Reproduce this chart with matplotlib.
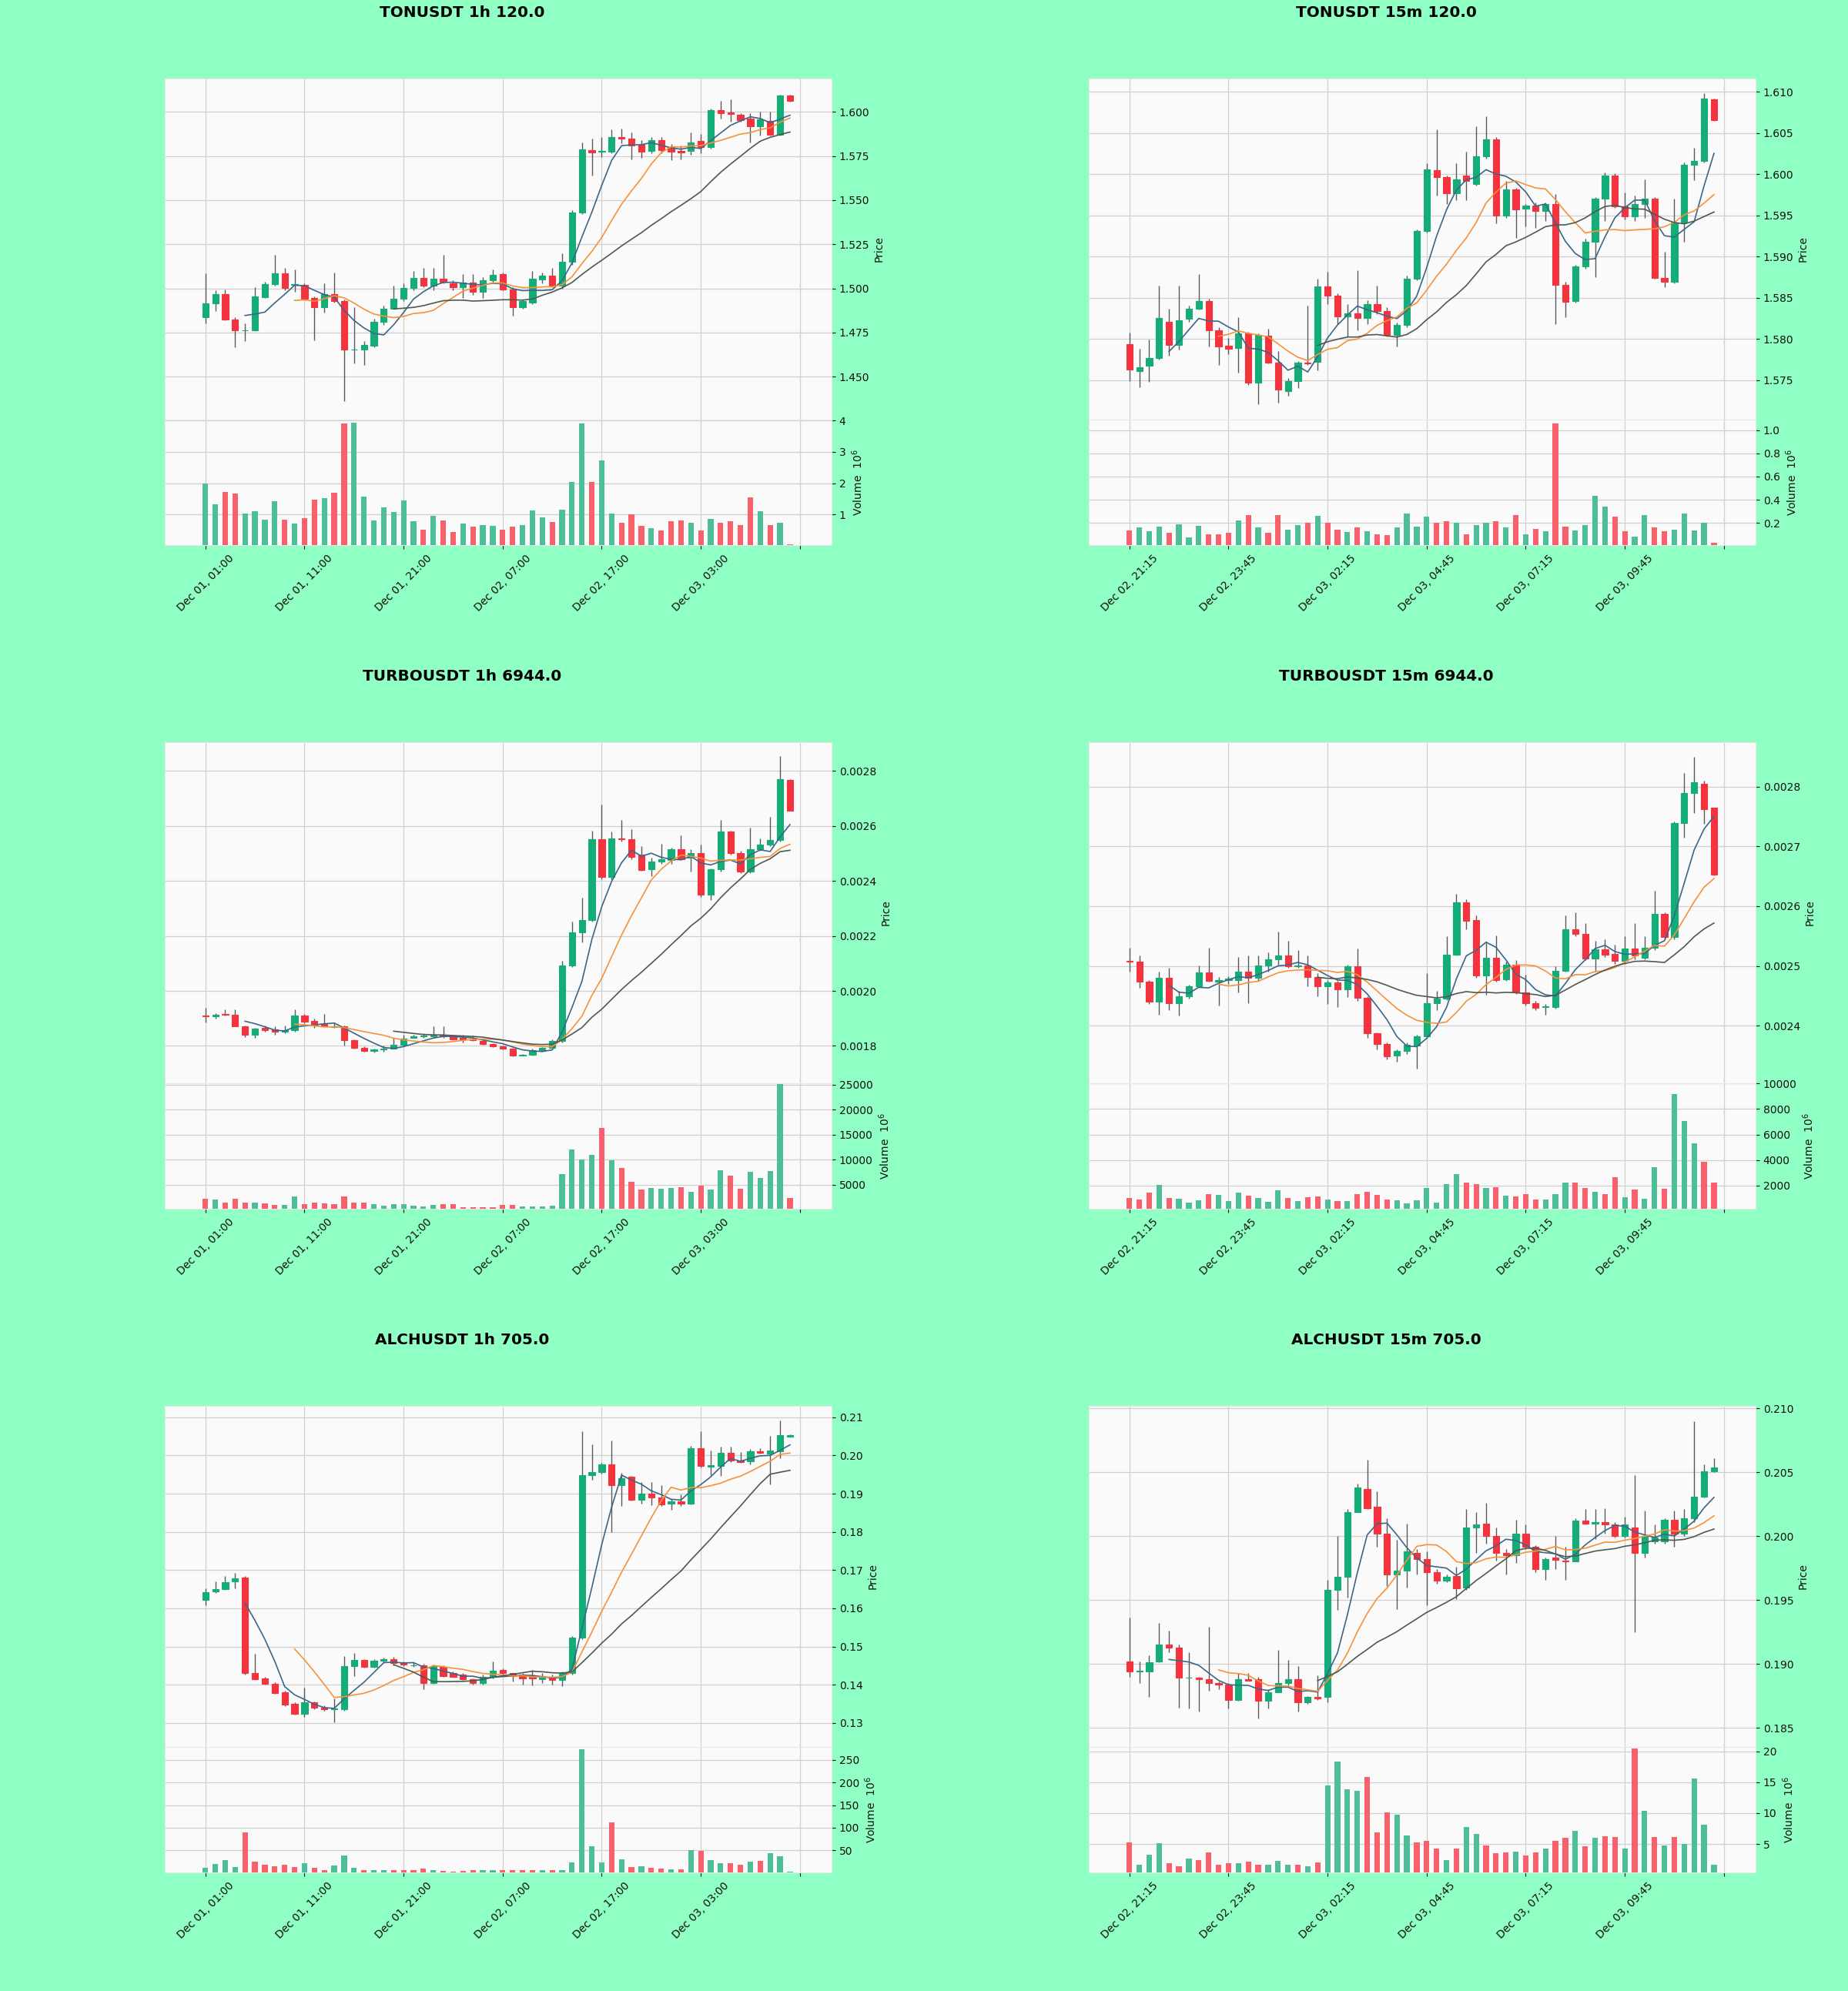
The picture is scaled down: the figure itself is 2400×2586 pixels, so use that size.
import numpy as np
import pandas as pd
import matplotlib
matplotlib.use("Agg")
import matplotlib.pyplot as plt
from matplotlib.ticker import MultipleLocator

# ---------------------------------------------------------------- data
LABELS_1H = ["Dec 01, 01:00", "Dec 01, 11:00", "Dec 01, 21:00",
             "Dec 02, 07:00", "Dec 02, 17:00", "Dec 03, 03:00"]
LABELS_15M = ["Dec 02, 21:15", "Dec 02, 23:45", "Dec 03, 02:15",
              "Dec 03, 04:45", "Dec 03, 07:15", "Dec 03, 09:45"]
MAV_WINDOWS = [5, 10, 20]

# TONUSDT 1h
TON_1H_OPEN = [1.4838,1.4915,1.4967,1.4825,1.4762,1.4765,1.4951,1.5023,1.5086,1.5020,
               1.5022,1.4946,1.4892,1.4967,1.4928,1.4652,1.4652,1.4676,1.4811,1.4886,
               1.4940,1.5002,1.5059,1.5018,1.5054,1.5027,1.5005,1.5032,1.4982,1.5045,
               1.5081,1.4995,1.4892,1.4919,1.5050,1.5072,1.5018,1.5149,1.5432,1.5784,
               1.5775,1.5775,1.5859,1.5847,1.5816,1.5778,1.5841,1.5802,1.5778,1.5777,
               1.5834,1.5802,1.6009,1.5995,1.5982,1.5964,1.5919,1.5950,1.5870,1.6094]
TON_1H_HIGH = [1.5085,1.4990,1.4994,1.4838,1.4800,1.5009,1.5036,1.5189,1.5117,1.5108,
               1.5027,1.4955,1.5027,1.5090,1.4937,1.4892,1.4703,1.4829,1.4901,1.5018,
               1.5027,1.5099,1.5117,1.5117,1.5189,1.5045,1.5080,1.5080,1.5063,1.5108,
               1.5090,1.5009,1.4937,1.5099,1.5090,1.5117,1.5198,1.5445,1.5829,1.5847,
               1.5856,1.5901,1.5906,1.5883,1.5838,1.5856,1.5856,1.5820,1.5811,1.5883,
               1.5874,1.6018,1.6063,1.6072,1.5991,1.5991,1.6000,1.6000,1.6099,1.6099]
TON_1H_LOW = [1.4802,1.4874,1.4820,1.4667,1.4700,1.4757,1.4946,1.5018,1.4991,1.4980,
              1.4937,1.4706,1.4865,1.4919,1.4360,1.4576,1.4567,1.4667,1.4793,1.4883,
              1.4928,1.4991,1.5009,1.4991,1.5027,1.4991,1.4946,1.4964,1.4946,1.5027,
              1.4991,1.4847,1.4883,1.4910,1.5027,1.5009,1.5000,1.5135,1.5423,1.5640,
              1.5745,1.5766,1.5823,1.5730,1.5739,1.5766,1.5766,1.5726,1.5730,1.5757,
              1.5766,1.5793,1.5964,1.5946,1.5946,1.5829,1.5865,1.5865,1.5865,1.6058]
TON_1H_CLOSE = [1.4915,1.4967,1.4825,1.4762,1.4765,1.4955,1.5023,1.5086,1.5003,1.5023,
                1.4941,1.4892,1.4967,1.4928,1.4652,1.4655,1.4679,1.4811,1.4886,1.4940,
                1.5002,1.5059,1.5018,1.5054,1.5036,1.5009,1.5032,1.4982,1.5045,1.5077,
                1.4995,1.4892,1.4928,1.5054,1.5072,1.5018,1.5149,1.5432,1.5787,1.5771,
                1.5779,1.5859,1.5847,1.5811,1.5775,1.5838,1.5784,1.5775,1.5772,1.5829,
                1.5802,1.6009,1.5991,1.5988,1.5955,1.5919,1.5960,1.5870,1.6094,1.6063]
TON_1H_VOLUME = [2.0,1.34,1.73,1.67,1.04,1.12,0.85,1.44,0.85,0.72,
                 0.88,1.49,1.52,1.69,3.91,3.94,1.58,0.82,1.23,1.08,
                 1.46,0.78,0.51,0.97,0.82,0.45,0.72,0.61,0.66,0.64,
                 0.52,0.62,0.66,1.13,0.92,0.77,1.17,2.05,3.90,2.05,
                 2.73,1.04,0.74,1.0,0.64,0.56,0.49,0.8,0.82,0.73,
                 0.49,0.87,0.73,0.78,0.67,1.56,1.12,0.67,0.74,0.05]

# TONUSDT 15m
TON_15M_OPEN = [1.5794,1.5761,1.5767,1.5777,1.5821,1.5793,1.5824,1.5837,1.5846,1.5810,
                1.5792,1.5789,1.5807,1.5747,1.5804,1.5771,1.5737,1.5749,1.5771,1.5772,
                1.5864,1.5852,1.5827,1.5831,1.5825,1.5842,1.5834,1.5805,1.5817,1.5873,
                1.5931,1.6005,1.5996,1.5977,1.5998,1.5988,1.6022,1.6042,1.5950,1.5981,
                1.5958,1.5962,1.5955,1.5964,1.5866,1.5846,1.5888,1.5918,1.5970,1.5998,
                1.5961,1.5949,1.5964,1.5970,1.5874,1.5869,1.5941,1.6011,1.6016,1.6091]
TON_15M_HIGH = [1.5808,1.5788,1.5799,1.5865,1.5837,1.5865,1.5840,1.5879,1.5849,1.5814,
                1.5801,1.5826,1.5809,1.5807,1.5812,1.5785,1.5752,1.5773,1.5840,1.5873,
                1.5881,1.5855,1.5842,1.5883,1.5847,1.5865,1.5838,1.5820,1.5877,1.5933,
                1.6013,1.6054,1.5998,1.6013,1.6027,1.6058,1.6070,1.6045,1.5992,1.5983,
                1.5964,1.5966,1.5966,1.5976,1.5869,1.5890,1.5922,1.5972,1.6002,1.6001,
                1.5978,1.5974,1.5994,1.5972,1.5906,1.5970,1.6014,1.6032,1.6098,1.6092]
TON_15M_LOW = [1.5749,1.5741,1.5748,1.5775,1.5780,1.5787,1.5821,1.5836,1.5791,1.5768,
               1.5781,1.5759,1.5744,1.5721,1.5770,1.5723,1.5731,1.5740,1.5768,1.5762,
               1.5842,1.5818,1.5803,1.5810,1.5818,1.5830,1.5803,1.5791,1.5814,1.5871,
               1.5929,1.5974,1.5964,1.5968,1.5968,1.5986,1.6019,1.5940,1.5947,1.5923,
               1.5937,1.5935,1.5943,1.5818,1.5826,1.5844,1.5885,1.5875,1.5943,1.5959,
               1.5945,1.5943,1.5947,1.5873,1.5863,1.5867,1.5918,1.5993,1.6014,1.6065]
TON_15M_CLOSE = [1.5763,1.5766,1.5777,1.5825,1.5793,1.5823,1.5837,1.5846,1.5810,1.5791,
                 1.5788,1.5807,1.5747,1.5805,1.5771,1.5738,1.5749,1.5771,1.5770,1.5864,
                 1.5852,1.5827,1.5831,1.5825,1.5842,1.5834,1.5805,1.5817,1.5873,1.5931,
                 1.6006,1.5996,1.5977,1.5994,1.5992,1.6022,1.6042,1.5950,1.5981,1.5957,
                 1.5962,1.5955,1.5964,1.5866,1.5845,1.5888,1.5918,1.5970,1.5998,1.5961,
                 1.5949,1.5964,1.5970,1.5874,1.5869,1.5941,1.6011,1.6016,1.6092,1.6066]
TON_15M_VOLUME = [0.136,0.163,0.13,0.172,0.116,0.19,0.075,0.177,0.1,0.1,
                  0.114,0.22,0.27,0.163,0.114,0.266,0.144,0.183,0.2,0.263,
                  0.2,0.141,0.122,0.16,0.127,0.102,0.097,0.16,0.283,0.172,
                  0.255,0.2,0.216,0.2,0.1,0.183,0.2,0.216,0.163,0.266,
                  0.1,0.147,0.13,1.06,0.169,0.136,0.18,0.432,0.34,0.252,
                  0.127,0.086,0.269,0.16,0.127,0.144,0.283,0.133,0.2,0.028]

# TURBOUSDT 1h
TURBO_1H_OPEN = [0.001911,0.001907,0.001916,0.001913,0.001872,0.001841,0.001866,0.001860,0.001852,0.001856,
                 0.001910,0.001890,0.001879,0.001869,0.001870,0.001821,0.001792,0.001781,0.001786,0.001790,
                 0.001803,0.001829,0.001834,0.001836,0.001841,0.001838,0.001830,0.001825,0.001818,0.001807,
                 0.001799,0.001790,0.001766,0.001769,0.001781,0.001792,0.001818,0.002092,0.002214,0.002258,
                 0.002552,0.002415,0.002554,0.002552,0.002495,0.002443,0.002472,0.002477,0.002515,0.002486,
                 0.002503,0.002351,0.002443,0.002580,0.002503,0.002435,0.002517,0.002532,0.002549,0.002768]
TURBO_1H_HIGH = [0.001938,0.001920,0.001932,0.001932,0.001875,0.001867,0.001875,0.001870,0.001875,0.001932,
                 0.001915,0.001898,0.001915,0.001885,0.001875,0.001824,0.001799,0.001790,0.001801,0.001830,
                 0.001841,0.001841,0.001847,0.001870,0.001870,0.001841,0.001841,0.001838,0.001821,0.001810,
                 0.001802,0.001793,0.001770,0.001790,0.001796,0.001824,0.002109,0.002252,0.002340,0.002583,
                 0.002678,0.002580,0.002623,0.002589,0.002526,0.002486,0.002534,0.002520,0.002566,0.002515,
                 0.002532,0.002446,0.002623,0.002583,0.002509,0.002595,0.002555,0.002634,0.002855,0.002770]
TURBO_1H_LOW = [0.001886,0.001898,0.001910,0.001870,0.001833,0.001830,0.001852,0.001841,0.001847,0.001852,
                0.001883,0.001867,0.001870,0.001865,0.001801,0.001790,0.001778,0.001777,0.001778,0.001790,
                0.001799,0.001829,0.001829,0.001830,0.001830,0.001821,0.001812,0.001818,0.001804,0.001796,
                0.001787,0.001763,0.001765,0.001765,0.001778,0.001790,0.001812,0.002087,0.002178,0.002252,
                0.002406,0.002406,0.002543,0.002480,0.002438,0.002418,0.002463,0.002463,0.002475,0.002435,
                0.002343,0.002332,0.002435,0.002497,0.002429,0.002429,0.002509,0.002526,0.002543,0.002655]
TURBO_1H_CLOSE = [0.001909,0.001914,0.001913,0.001872,0.001841,0.001864,0.001858,0.001852,0.001858,0.001910,
                  0.001887,0.001875,0.001872,0.001871,0.001821,0.001792,0.001781,0.001786,0.001791,0.001803,
                  0.001826,0.001834,0.001838,0.001841,0.001834,0.001824,0.001823,0.001821,0.001807,0.001799,
                  0.001790,0.001765,0.001768,0.001784,0.001792,0.001818,0.002092,0.002214,0.002258,0.002552,
                  0.002415,0.002555,0.002551,0.002488,0.002440,0.002472,0.002480,0.002515,0.002480,0.002503,
                  0.002351,0.002443,0.002580,0.002503,0.002435,0.002517,0.002532,0.002549,0.002771,0.002657]
TURBO_1H_VOLUME = [2270,2010,1360,2140,1430,1490,1300,970,970,2600,
                   1170,1490,1230,1170,2600,1360,1360,1170,780,1100,
                   1100,780,710,1040,1170,1170,580,450,520,520,
                   910,910,710,650,710,840,7200,12080,10070,11040,
                   16430,9940,8310,5650,4090,4420,4220,4350,4550,3640,
                   4810,4090,7860,6880,4160,7600,6360,7730,25100,2340]

# TURBOUSDT 15m
TURBO_15M_OPEN = [0.002508,0.002507,0.002474,0.002441,0.002480,0.002438,0.002449,0.002466,0.002489,0.002474,
                  0.002477,0.002477,0.002491,0.002480,0.002501,0.002511,0.002518,0.002500,0.002501,0.002481,
                  0.002466,0.002473,0.002461,0.002499,0.002447,0.002387,0.002369,0.002350,0.002358,0.002367,
                  0.002382,0.002438,0.002446,0.002519,0.002607,0.002577,0.002484,0.002514,0.002478,0.002502,
                  0.002456,0.002438,0.002432,0.002432,0.002492,0.002561,0.002553,0.002512,0.002528,0.002520,
                  0.002509,0.002529,0.002514,0.002530,0.002587,0.002548,0.002739,0.002789,0.002804,0.002764]
TURBO_15M_HIGH = [0.002530,0.002518,0.002477,0.002491,0.002497,0.002458,0.002469,0.002501,0.002531,0.002481,
                  0.002483,0.002515,0.002518,0.002518,0.002523,0.002558,0.002542,0.002526,0.002517,0.002488,
                  0.002477,0.002475,0.002502,0.002529,0.002449,0.002389,0.002372,0.002361,0.002372,0.002385,
                  0.002488,0.002458,0.002550,0.002621,0.002612,0.002585,0.002541,0.002551,0.002507,0.002510,
                  0.002486,0.002442,0.002437,0.002499,0.002584,0.002589,0.002572,0.002542,0.002545,0.002535,
                  0.002550,0.002572,0.002550,0.002626,0.002589,0.002742,0.002823,0.002850,0.002810,0.002765]
TURBO_15M_LOW = [0.002491,0.002463,0.002437,0.002419,0.002426,0.002417,0.002445,0.002465,0.002474,0.002434,
                 0.002470,0.002456,0.002438,0.002475,0.002491,0.002502,0.002497,0.002497,0.002466,0.002450,
                 0.002437,0.002432,0.002448,0.002442,0.002380,0.002361,0.002344,0.002340,0.002353,0.002329,
                 0.002380,0.002426,0.002443,0.002517,0.002561,0.002480,0.002452,0.002474,0.002475,0.002453,
                 0.002434,0.002426,0.002418,0.002429,0.002490,0.002550,0.002510,0.002491,0.002515,0.002504,
                 0.002504,0.002511,0.002511,0.002526,0.002545,0.002545,0.002714,0.002756,0.002737,0.002652]
TURBO_15M_CLOSE = [0.002507,0.002474,0.002440,0.002480,0.002438,0.002449,0.002466,0.002489,0.002475,0.002477,
                   0.002479,0.002491,0.002480,0.002501,0.002511,0.002518,0.002499,0.002501,0.002481,0.002466,
                   0.002473,0.002461,0.002499,0.002447,0.002387,0.002369,0.002349,0.002358,0.002368,0.002382,
                   0.002438,0.002446,0.002519,0.002607,0.002575,0.002484,0.002514,0.002476,0.002502,0.002456,
                   0.002438,0.002430,0.002433,0.002492,0.002561,0.002553,0.002512,0.002528,0.002519,0.002509,
                   0.002529,0.002517,0.002530,0.002587,0.002548,0.002739,0.002789,0.002807,0.002762,0.002653]
TURBO_15M_VOLUME = [1030,890,1430,2040,1010,960,700,870,1330,1290,
                    820,1430,1240,1030,730,1640,1030,820,1120,1170,
                    890,820,820,1330,1540,1260,890,840,630,840,
                    1830,700,2110,2930,2220,2110,1830,1870,1220,1170,
                    1360,890,890,1360,2220,2220,1830,1500,1330,2690,
                    1080,1710,980,3420,1760,9200,7070,5290,3840,2270]

# ALCHUSDT 1h
ALCH_1H_OPEN = [0.1623,0.1644,0.1650,0.1670,0.1681,0.1430,0.1417,0.1403,0.1380,0.1349,
                0.1323,0.1353,0.1340,0.1336,0.1335,0.1448,0.1464,0.1446,0.1462,0.1467,
                0.1456,0.1450,0.1450,0.1405,0.1446,0.1430,0.1426,0.1415,0.1404,0.1420,
                0.1438,0.1430,0.1426,0.1422,0.1415,0.1420,0.1413,0.1430,0.1524,0.1948,
                0.1956,0.1976,0.1922,0.1944,0.1884,0.1901,0.1890,0.1874,0.1880,0.1874,
                0.2020,0.1971,0.1973,0.2008,0.1987,0.1985,0.2012,0.2005,0.2012,0.2050]
ALCH_1H_HIGH = [0.1653,0.1670,0.1685,0.1693,0.1685,0.1481,0.1420,0.1407,0.1385,0.1354,
                0.1393,0.1356,0.1345,0.1364,0.1475,0.1483,0.1467,0.1467,0.1471,0.1473,
                0.1461,0.1458,0.1454,0.1453,0.1450,0.1434,0.1430,0.1417,0.1426,0.1461,
                0.1442,0.1431,0.1430,0.1438,0.1430,0.1426,0.1434,0.1528,0.2063,0.2030,
                0.1981,0.2040,0.1954,0.1946,0.1931,0.1931,0.1923,0.1886,0.1898,0.2026,
                0.2063,0.2014,0.2024,0.2024,0.2010,0.2018,0.2020,0.2051,0.2091,0.2056]
ALCH_1H_LOW = [0.1607,0.1640,0.1648,0.1653,0.1426,0.1413,0.1401,0.1376,0.1343,0.1321,
               0.1315,0.1335,0.1331,0.1302,0.1331,0.1422,0.1445,0.1445,0.1459,0.1450,
               0.1448,0.1446,0.1389,0.1403,0.1420,0.1420,0.1412,0.1401,0.1401,0.1417,
               0.1426,0.1409,0.1401,0.1398,0.1405,0.1401,0.1397,0.1426,0.1520,0.1936,
               0.1952,0.1800,0.1867,0.1882,0.1874,0.1870,0.1867,0.1857,0.1867,0.1872,
               0.1968,0.1948,0.1946,0.1982,0.1981,0.1977,0.2005,0.1925,0.1993,0.2049]
ALCH_1H_CLOSE = [0.1642,0.1650,0.1668,0.1679,0.1430,0.1415,0.1403,0.1379,0.1348,0.1323,
                 0.1354,0.1339,0.1336,0.1338,0.1448,0.1464,0.1446,0.1463,0.1467,0.1456,
                 0.1452,0.1451,0.1405,0.1448,0.1422,0.1421,0.1415,0.1405,0.1420,0.1436,
                 0.1430,0.1422,0.1417,0.1416,0.1420,0.1413,0.1430,0.1524,0.1948,0.1956,
                 0.1976,0.1922,0.1941,0.1884,0.1901,0.1890,0.1872,0.1880,0.1874,0.2020,
                 0.1973,0.1974,0.2008,0.1987,0.1982,0.2012,0.2007,0.2014,0.2053,0.2054]
ALCH_1H_VOLUME = [10.6,19,27.6,12.7,89.7,24.7,17,14,18.4,12,
                  20.5,10.6,6.4,16.3,38.2,10.6,5.7,5.7,5,5,
                  5.7,5,9.9,6.4,3.5,2.8,3.5,5,5,6.4,
                  5,5,5,5,5,5,6.4,23.3,273.5,58.7,
                  23.3,111,30.4,13.4,14.1,11.3,9.9,7.8,7.8,50.2,
                  48.8,27.6,21.9,21.2,18.4,24,25.4,43.1,36.7,2.1]

# ALCHUSDT 15m
ALCH_15M_OPEN = [0.19020,0.18940,0.18940,0.19020,0.19150,0.19130,0.18890,0.18895,0.18880,0.18850,
                 0.18840,0.18720,0.18880,0.18880,0.18710,0.18780,0.18850,0.18880,0.18700,0.18740,
                 0.18740,0.19580,0.19680,0.20190,0.20370,0.20230,0.20020,0.19700,0.19730,0.19870,
                 0.19820,0.19720,0.19650,0.19690,0.19600,0.20070,0.20100,0.20000,0.19870,0.19850,
                 0.20020,0.19920,0.19740,0.19830,0.19810,0.19800,0.20120,0.20100,0.20110,0.20090,
                 0.20000,0.20070,0.19870,0.19960,0.19960,0.20130,0.20020,0.20140,0.20310,0.20510]
ALCH_15M_HIGH = [0.19360,0.19020,0.19070,0.19320,0.19260,0.19150,0.19090,0.18900,0.19290,0.18860,
                 0.18850,0.18930,0.18930,0.18900,0.18800,0.19110,0.19030,0.18980,0.18750,0.18910,
                 0.19660,0.20000,0.20210,0.20410,0.20600,0.20350,0.20140,0.19970,0.20100,0.19900,
                 0.19880,0.19740,0.19700,0.19760,0.20210,0.20190,0.20260,0.20070,0.19900,0.20130,
                 0.20090,0.19930,0.19830,0.20000,0.19920,0.20140,0.20210,0.20210,0.20220,0.20110,
                 0.20150,0.20480,0.20200,0.20090,0.20140,0.20200,0.20210,0.20900,0.20560,0.20610]
ALCH_15M_LOW = [0.18900,0.18850,0.18740,0.19010,0.19090,0.18660,0.18650,0.18630,0.18790,0.18800,
                0.18650,0.18710,0.18870,0.18570,0.18650,0.18780,0.18830,0.18630,0.18690,0.18720,
                0.18700,0.19420,0.19520,0.20190,0.20210,0.19920,0.19610,0.19430,0.19600,0.19700,
                0.19460,0.19630,0.19640,0.19510,0.19580,0.19870,0.19940,0.19810,0.19700,0.19790,
                0.19900,0.19720,0.19660,0.19740,0.19660,0.19800,0.20090,0.19980,0.20020,0.19990,
                0.19990,0.19250,0.19830,0.19940,0.19940,0.19920,0.20000,0.20110,0.20300,0.20500]
ALCH_15M_CLOSE = [0.18940,0.18945,0.19010,0.19150,0.19130,0.18890,0.18895,0.18880,0.18850,0.18840,
                  0.18720,0.18880,0.18870,0.18710,0.18780,0.18850,0.18880,0.18700,0.18740,0.18730,
                  0.19580,0.19680,0.20190,0.20380,0.20220,0.20020,0.19700,0.19730,0.19880,0.19820,
                  0.19720,0.19650,0.19680,0.19590,0.20070,0.20090,0.20000,0.19870,0.19850,0.20020,
                  0.19920,0.19740,0.19820,0.19815,0.19800,0.20120,0.20100,0.20110,0.20090,0.20000,
                  0.20090,0.19870,0.20000,0.19990,0.20130,0.20020,0.20140,0.20310,0.20510,0.20540]
ALCH_15M_VOLUME = [5.2,1.6,3.3,5.1,1.9,1.4,2.7,2.4,3.6,1.6,
                   1.9,1.9,2.2,1.6,1.6,2.3,1.6,1.6,1.35,2.0,
                   14.5,18.3,13.9,13.6,15.9,6.9,10.1,9.7,6.4,5.2,
                   5.5,4.2,2.4,4.2,7.8,6.6,4.7,3.5,3.6,3.8,
                   3.1,3.6,4.3,5.5,6.0,7.1,4.6,6.0,6.3,6.1,
                   4.3,20.4,10.4,6.1,4.8,6.1,5.0,15.6,8.1,1.6]

CHARTS = [
    ("TONUSDT 1h 120.0", TON_1H_OPEN, TON_1H_HIGH, TON_1H_LOW, TON_1H_CLOSE, TON_1H_VOLUME, LABELS_1H),
    ("TONUSDT 15m 120.0", TON_15M_OPEN, TON_15M_HIGH, TON_15M_LOW, TON_15M_CLOSE, TON_15M_VOLUME, LABELS_15M),
    ("TURBOUSDT 1h 6944.0", TURBO_1H_OPEN, TURBO_1H_HIGH, TURBO_1H_LOW, TURBO_1H_CLOSE, TURBO_1H_VOLUME, LABELS_1H),
    ("TURBOUSDT 15m 6944.0", TURBO_15M_OPEN, TURBO_15M_HIGH, TURBO_15M_LOW, TURBO_15M_CLOSE, TURBO_15M_VOLUME, LABELS_15M),
    ("ALCHUSDT 1h 705.0", ALCH_1H_OPEN, ALCH_1H_HIGH, ALCH_1H_LOW, ALCH_1H_CLOSE, ALCH_1H_VOLUME, LABELS_1H),
    ("ALCHUSDT 15m 705.0", ALCH_15M_OPEN, ALCH_15M_HIGH, ALCH_15M_LOW, ALCH_15M_CLOSE, ALCH_15M_VOLUME, LABELS_15M),
]

# ---------------------------------------------------------------- style / layout
PRICE_YLIM = [(1.4257, 1.6189), (1.5702, 1.6116), (0.001664, 0.002905),
              (0.002304, 0.002874), (0.1237, 0.2130), (0.1835, 0.2102)]
PRICE_STEP = [0.025, 0.005, 0.0002, 0.0001, 0.01, 0.005]
VOL_YLIM = [(0.03, 4.03), (0.01, 1.09), (200, 25300), (190, 10020), (0.6, 279), (0.4, 20.7)]
VOL_STEP = [1, 0.2, 5000, 2000, 50, 5]

W, H = 2400, 2586
BG = "#8fffc4"
FACE = "#fafafa"
GRID = "#d0d0d0"
UP, DOWN = "#14ad78", "#f5333f"
VUP, VDOWN = "#4cbf98", "#f8606b"
WICK = "#5a5a5a"
MAV_COLORS = ["#3b6688", "#f5923a", "#4d5a50"]
TXT = "#101010"

plt.rcParams["font.family"] = ["DejaVu Sans"]
plt.rcParams["font.size"] = 10

fig = plt.figure(figsize=(W / 100, H / 100), dpi=100, facecolor=BG)


def style_axis(ax):
    ax.set_facecolor(FACE)
    ax.grid(True, color=GRID, linewidth=0.9, linestyle="-")
    ax.set_axisbelow(True)
    ax.yaxis.tick_right()
    ax.yaxis.set_label_position("right")
    for s in ax.spines.values():
        s.set_color("#e8e8e8")
    ax.tick_params(colors=TXT, labelsize=10)


for k, (title, o, h, l, c, v, labels) in enumerate(CHARTS):
    row, col = divmod(k, 2)
    x0, y0 = col * 1200, row * 862
    left, width = (x0 + 214) / W, 866 / W
    top_px, mid_px, bot_px = y0 + 102, y0 + 545, y0 + 708
    axp = fig.add_axes([left, 1 - mid_px / H, width, (mid_px - top_px) / H])
    axv = fig.add_axes([left, 1 - bot_px / H, width, (bot_px - mid_px) / H], sharex=axp)
    style_axis(axp)
    style_axis(axv)

    o, h, l, c, v = map(np.asarray, (o, h, l, c, v))
    x = np.arange(len(c))
    up = c >= o
    body_col = np.where(up, UP, DOWN)
    axp.vlines(x, l, h, color=WICK, linewidth=1.0, zorder=2)
    axp.bar(x, np.abs(c - o), bottom=np.minimum(o, c), width=0.64,
            color=body_col, edgecolor=body_col, linewidth=0.8, zorder=3)
    closes = pd.Series(c)
    for wnd, mc in zip(MAV_WINDOWS, MAV_COLORS):
        axp.plot(x, closes.rolling(wnd).mean(), color=mc, linewidth=1.2, zorder=4)

    vup = np.r_[c[0] >= o[0], c[1:] >= c[:-1]]
    axv.bar(x, v, width=0.56, color=np.where(vup, VUP, VDOWN), linewidth=0, zorder=3)

    axp.set_xlim(-4.1, 63.2)
    axp.set_ylim(*PRICE_YLIM[k])
    axp.yaxis.set_major_locator(MultipleLocator(PRICE_STEP[k]))
    axv.set_ylim(*VOL_YLIM[k])
    axv.yaxis.set_major_locator(MultipleLocator(VOL_STEP[k]))

    ticks = list(range(0, 61, 10))
    axv.set_xticks(ticks)
    axv.set_xticklabels(labels + [""], rotation=45)
    axp.tick_params(axis="x", length=0, labelbottom=False)

    axp.set_ylabel("Price", color=TXT, fontsize=10)
    axv.set_ylabel("Volume  $10^{6}$", color=TXT, fontsize=10)

    fig.text((x0 + 600) / W, 1 - (y0 + 16) / H, title, ha="center", va="center",
             fontsize=14.4, fontweight="bold", color="black")

fig.savefig("out.png", dpi=100, facecolor=BG)
